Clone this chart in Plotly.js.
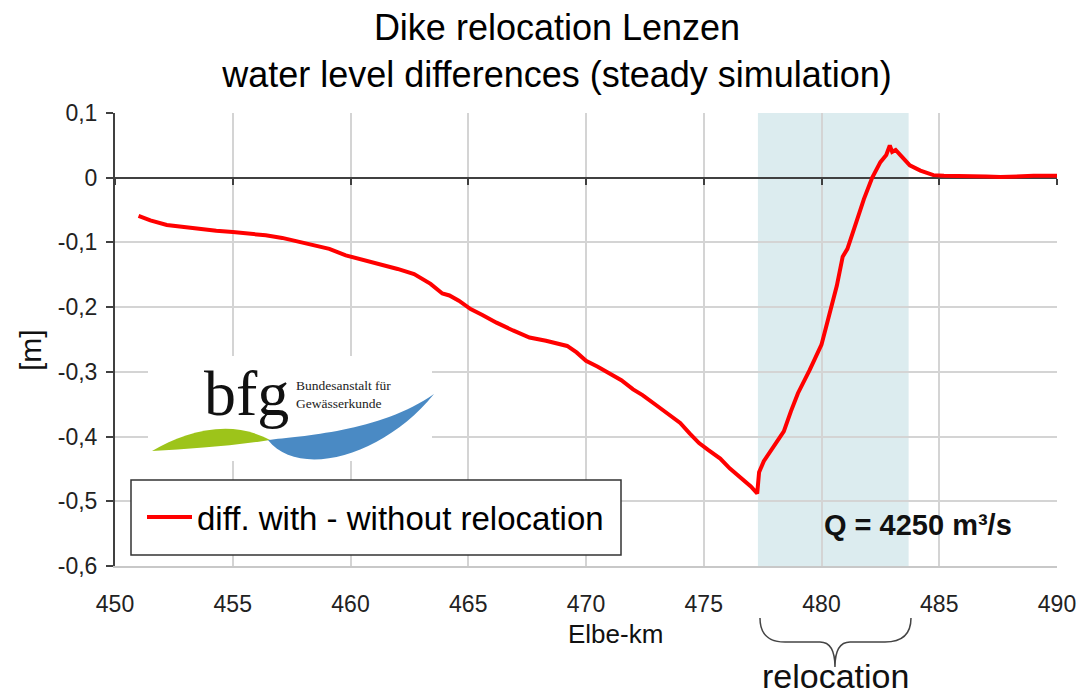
<!DOCTYPE html>
<html>
<head>
<meta charset="utf-8">
<script src="https://cdn.plot.ly/plotly-3.0.1.min.js"></script>
<style>html,body{margin:0;padding:0;background:#fff}#chart{width:1081px;height:695px}</style>
</head>
<body>
<div id="chart"></div>
<script>
// ---- data ----
const km = [451.0, 451.5, 452.2, 453.0, 453.6, 454.3, 455.0, 455.7, 456.4, 457.1, 457.9, 458.5, 459.1, 459.8, 460.7, 461.3, 462.0, 462.7, 463.4, 463.9, 464.2, 464.6, 465.1, 465.6, 466.2, 466.9, 467.6, 468.3, 468.8, 469.2, 469.6, 470.0, 470.5, 470.9, 471.5, 472.0, 472.4, 473.0, 473.5, 474.0, 474.4, 474.8, 475.2, 475.7, 476.1, 476.6, 477.0, 477.27, 477.35, 477.55, 477.9, 478.4, 478.7, 479.0, 479.5, 480.0, 480.3, 480.65, 480.9, 481.1, 481.4, 481.8, 482.15, 482.5, 482.75, 482.9, 483.0, 483.15, 483.35, 483.75, 484.2, 484.75, 485.2, 485.7, 486.2, 486.6, 487.0, 487.6, 488.0, 488.5, 489.0, 489.5, 490.0];
const diff = [-0.059, -0.066, -0.073, -0.077, -0.079, -0.082, -0.084, -0.086, -0.089, -0.093, -0.100, -0.104, -0.110, -0.120, -0.128, -0.134, -0.141, -0.149, -0.164, -0.179, -0.182, -0.190, -0.203, -0.212, -0.224, -0.236, -0.247, -0.252, -0.256, -0.260, -0.270, -0.283, -0.292, -0.301, -0.313, -0.327, -0.336, -0.352, -0.365, -0.379, -0.395, -0.410, -0.421, -0.434, -0.449, -0.465, -0.477, -0.488, -0.455, -0.438, -0.418, -0.392, -0.361, -0.333, -0.297, -0.258, -0.216, -0.167, -0.122, -0.110, -0.077, -0.033, 0.000, 0.024, 0.035, 0.050, 0.040, 0.043, 0.035, 0.019, 0.011, 0.004, 0.003, 0.003, 0.002, 0.003, 0.002, 0.001, 0.002, 0.003, 0.003, 0.003, 0.003];
const relocation = [477.3, 483.7];
const xTicks = [450, 455, 460, 465, 470, 475, 480, 485, 490];
const yTicks = [0.1, 0, -0.1, -0.2, -0.3, -0.4, -0.5, -0.6];
const yTickText = ['0,1', '0', '-0,1', '-0,2', '-0,3', '-0,4', '-0,5', '-0,6'];
const seriesName = 'diff. with - without relocation';
const discharge = 'Q = 4250 m³/s';

// ---- layout helpers (pixel -> paper, plot area 115..1057 x 113..566) ----
const L = 115, R = 1057, T = 113, B = 566;
const px = x => (x - L) / (R - L);
const py = y => (B - y) / (B - T);
const P = (x, y) => px(x).toFixed(4) + ',' + py(y).toFixed(4);

const font = 'Liberation Sans, Arial, sans-serif';
const serif = 'Liberation Serif, Times New Roman, serif';

const traces = [
  {x: km, y: diff, type: 'scatter', mode: 'lines', name: seriesName,
   line: {color: '#ff0000', width: 4}, hoverinfo: 'x+y'},
  {x: km, y: diff, xaxis: 'x2', type: 'scatter', mode: 'lines', showlegend: false,
   line: {width: 0}, opacity: 0, hoverinfo: 'skip'}
];

const shapes = [
  {type: 'rect', xref: 'x', yref: 'paper', x0: relocation[0], x1: relocation[1], y0: 0, y1: 1,
   fillcolor: '#dcecef', line: {width: 0}, layer: 'below'},
  // legend frame
  {type: 'rect', xref: 'paper', yref: 'paper', x0: px(131), x1: px(621), y0: py(555), y1: py(480),
   fillcolor: '#ffffff', line: {color: '#333333', width: 1.5}, layer: 'above'},
  // logo background
  {type: 'rect', xref: 'paper', yref: 'paper', x0: px(148), x1: px(432), y0: py(461), y1: py(356),
   fillcolor: '#ffffff', line: {width: 0}, layer: 'above'},
  // logo green wave
  {type: 'path', xref: 'paper', yref: 'paper', layer: 'above', line: {width: 0}, fillcolor: '#9dc41a',
   path: 'M' + P(152, 451) + ' C' + P(185, 432) + ' ' + P(230, 418) + ' ' + P(270, 440) +
         ' C' + P(230, 446) + ' ' + P(190, 449) + ' ' + P(152, 451) + ' Z'},
  // logo blue wave
  {type: 'path', xref: 'paper', yref: 'paper', layer: 'above', line: {width: 0}, fillcolor: '#4a8ac4',
   path: 'M' + P(268, 440) + ' C' + P(300, 436) + ' ' + P(380, 432) + ' ' + P(434, 394) +
         ' C' + P(385, 455) + ' ' + P(300, 480) + ' ' + P(268, 440) + ' Z'},
  // brace under relocation range
  {type: 'path', xref: 'paper', yref: 'paper', layer: 'above', line: {color: '#444444', width: 1.5},
   path: 'M' + P(760, 618) + ' Q' + P(760, 642) + ' ' + P(785, 642) + ' L' + P(820, 642) +
         ' Q' + P(835, 642) + ' ' + P(835, 667) + ' Q' + P(835, 642) + ' ' + P(850, 642) +
         ' L' + P(885, 642) + ' Q' + P(911, 642) + ' ' + P(911, 618)}
];

const annotations = [
  {xref: 'paper', yref: 'paper', x: px(615), y: py(634), text: 'Elbe-km', showarrow: false,
   font: {family: font, size: 26, color: '#111'}, xanchor: 'center', yanchor: 'middle'},
  {xref: 'paper', yref: 'paper', x: px(30), y: py(350), text: '[m]', showarrow: false, textangle: -90,
   font: {family: font, size: 30, color: '#111'}, xanchor: 'center', yanchor: 'middle'},
  {xref: 'paper', yref: 'paper', x: px(918), y: py(525), text: '<b>' + discharge + '</b>', showarrow: false,
   font: {family: font, size: 29, color: '#111'}, xanchor: 'center', yanchor: 'middle'},
  {xref: 'paper', yref: 'paper', x: px(835), y: py(676), text: 'relocation', showarrow: false,
   font: {family: font, size: 34, color: '#111'}, xanchor: 'center', yanchor: 'middle'},
  {xref: 'paper', yref: 'paper', x: px(246), y: py(393), text: 'bfg', showarrow: false,
   font: {family: serif, size: 64, color: '#111'}, xanchor: 'center', yanchor: 'middle'},
  {xref: 'paper', yref: 'paper', x: px(294), y: py(394), text: 'Bundesanstalt für<br>Gewässerkunde',
   showarrow: false, align: 'left',
   font: {family: serif, size: 13.5, color: '#222'}, xanchor: 'left', yanchor: 'middle'}
];

const layout = {
  width: 1081, height: 695,
  margin: {l: L, r: 1081 - R, t: T, b: 695 - B, pad: 0},
  paper_bgcolor: '#ffffff', plot_bgcolor: '#ffffff',
  font: {family: font, color: '#222'},
  title: {text: 'Dike relocation Lenzen<br>water level differences (steady simulation)',
          x: 557 / 1081, xanchor: 'center', xref: 'container',
          y: 1 - 40 / 695, yanchor: 'top', yref: 'container',
          font: {family: font, size: 36, color: '#000'}},
  xaxis: {range: [450, 490], tickvals: xTicks, ticks: '', showline: true, linecolor: '#c8c8c8', linewidth: 2,
          showgrid: true, gridcolor: '#d4d4d4', gridwidth: 2, zeroline: false,
          tickfont: {family: font, size: 23, color: '#222'}, ticklabelstandoff: 16, fixedrange: true},
  xaxis2: {range: [450, 490], overlaying: 'x', anchor: 'free', position: 6 / 7, side: 'bottom',
           tickvals: xTicks, ticks: 'outside', ticklen: 6, tickwidth: 2, tickcolor: '#404040',
           showticklabels: false, showgrid: false, showline: false, zeroline: false, fixedrange: true},
  yaxis: {range: [-0.6, 0.1], tickvals: yTicks, ticktext: yTickText, ticks: 'outside', ticklen: 7,
          tickwidth: 2, tickcolor: '#404040', showline: true, linecolor: '#404040', linewidth: 2,
          showgrid: true, gridcolor: '#d4d4d4', gridwidth: 2, zeroline: true, zerolinecolor: '#404040',
          zerolinewidth: 2, tickfont: {family: font, size: 23, color: '#222'}, ticklabelstandoff: 4,
          fixedrange: true},
  showlegend: true,
  legend: {x: px(142), y: py(517), xanchor: 'left', yanchor: 'middle', bgcolor: 'rgba(0,0,0,0)',
           borderwidth: 0, itemwidth: 45, font: {family: font, size: 33, color: '#000'}},
  shapes: shapes,
  annotations: annotations
};

Plotly.newPlot('chart', traces, layout, {displayModeBar: false, staticPlot: true});
</script>
</body>
</html>
